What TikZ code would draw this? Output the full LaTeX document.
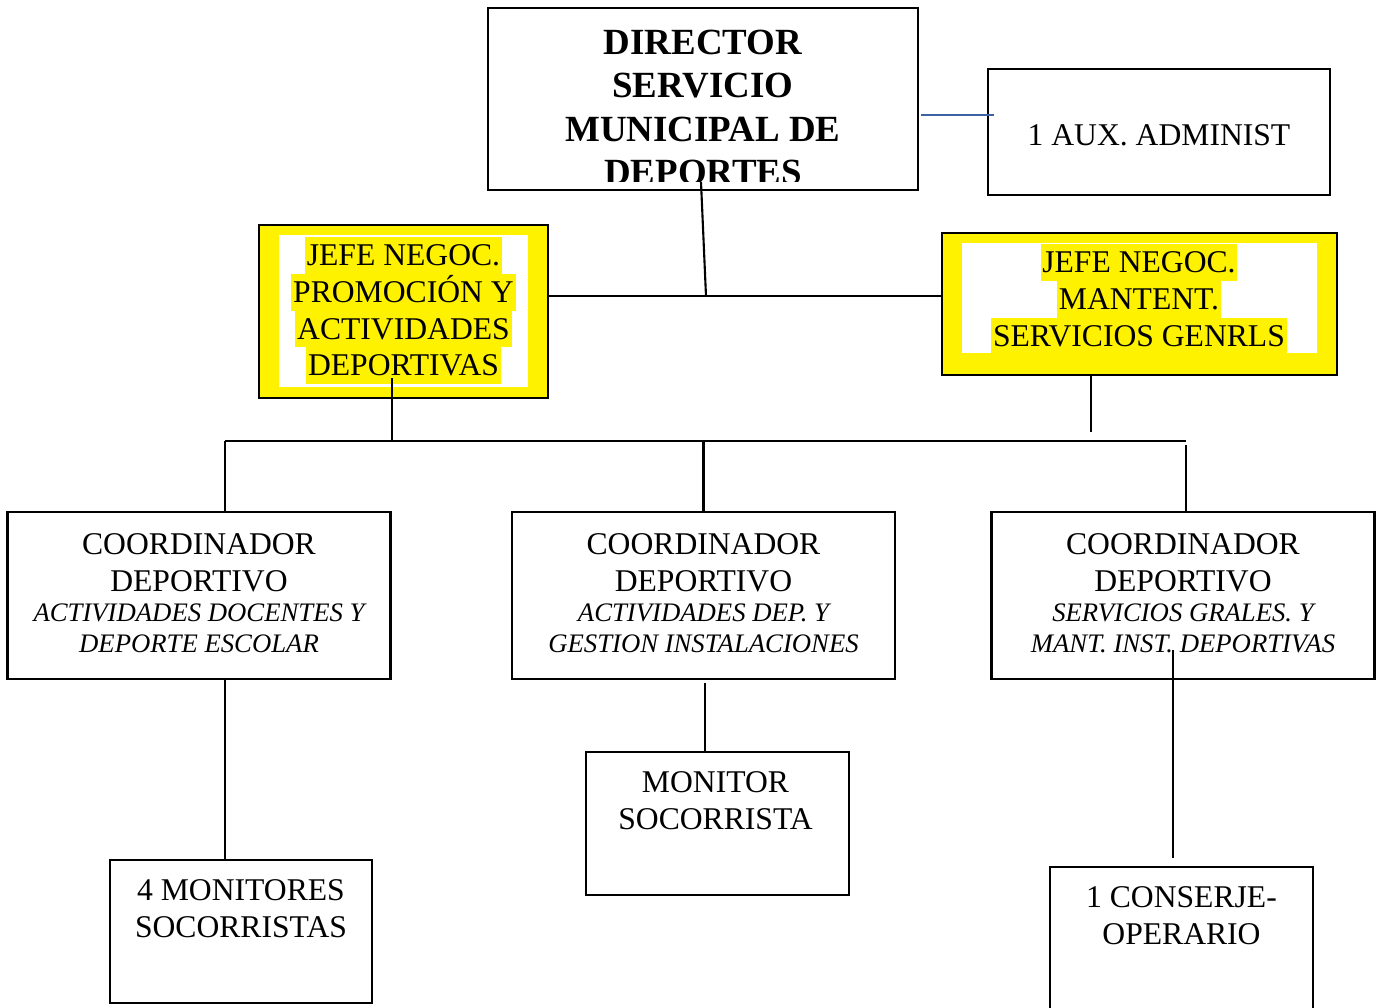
\documentclass[tikz,border=0pt]{standalone}
\usepackage{fontspec}
\setmainfont{Liberation Serif}
\definecolor{linkblue}{RGB}{60,100,165}
\tikzset{
  box/.style={draw, inner sep=0pt},
  head/.style={font=\fontsize{10.5}{12.3}\selectfont\bfseries, align=center, inner sep=0pt},
  txt/.style={font=\fontsize{9}{10.4}\selectfont, align=center, inner sep=0pt},
  sub/.style={font=\fontsize{7.6}{8.8}\selectfont\itshape, align=center, inner sep=0pt},
  hilite/.style={fill=yellow, font=\fontsize{9}{10.4}\selectfont, inner xsep=0.5pt, inner ysep=0pt, text height=8.2pt, text depth=2.3pt}
}
\begin{document}
\begin{tikzpicture}[line width=0.6pt]
  \useasboundingbox (0,0) rectangle (13.76,-10.08);
  % director and assistant
  \node[box, minimum width=4.3cm, minimum height=1.82cm] (dir) at (7.03,-0.99) {};
  \begin{scope}
    \clip (4.88,-0.08) rectangle (9.18,-1.815);
    \node[head] (dirtxt) at (7.03,-1.075) {DIRECTOR\\SERVICIO\\MUNICIPAL DE\\DEPORTES};
  \end{scope}
  \node[box, minimum width=3.42cm, minimum height=1.26cm] (aux) at (11.59,-1.32) {};
  \node[txt] (auxtxt) at ([yshift=-0.03cm]aux.center) {1 AUX. ADMINIST};
  % the two heads of section
  \node[box, fill=yellow, minimum width=2.89cm, minimum height=1.73cm] (jA) at (4.035,-3.115) {};
  \node[fill=white, inner sep=0pt, minimum width=2.49cm, minimum height=1.52cm] (jAin) at (4.035,-3.11) {};
  \foreach \t [count=\i] in {JEFE NEGOC.,PROMOCIÓN Y,ACTIVIDADES,DEPORTIVAS}
    \node[hilite] (jA\i) at (4.035,{-2.555-0.367*(\i-1)}) {\t};
  \node[box, fill=yellow, minimum width=3.95cm, minimum height=1.42cm] (jB) at (11.395,-3.04) {};
  \node[fill=white, inner sep=0pt, minimum width=3.55cm, minimum height=1.10cm] (jBin) at (11.395,-2.98) {};
  \foreach \t [count=\i] in {JEFE NEGOC.,MANTENT.,SERVICIOS GENRLS}
    \node[hilite] (jB\i) at (11.39,{-2.625-0.37*(\i-1)}) {\t};
  % coordinators
  \foreach \n/\x/\la/\lb in {coA/1.99/ACTIVIDADES DOCENTES Y/DEPORTE ESCOLAR,
      coB/7.035/ACTIVIDADES DEP. Y/GESTION INSTALACIONES,
      coC/11.83/SERVICIOS GRALES. Y/MANT. INST. DEPORTIVAS} {
    \node[box, minimum width=3.83cm, minimum height=1.67cm] (\n) at (\x,-5.955) {};
    \node[txt] (\n-t) at (\x,-5.625) {COORDINADOR\\DEPORTIVO};
    \node[sub] (\n-s) at (\x,-6.285) {\la\\\lb};
  }
  % staff
  \node[box, minimum width=2.62cm, minimum height=1.43cm] (monA) at (2.41,-9.315) {};
  \node[txt, anchor=north] (monAt) at ([yshift=-0.2cm]monA.north) {4 MONITORES\\SOCORRISTAS};
  \node[box, minimum width=2.63cm, minimum height=1.43cm] (monB) at (7.175,-8.235) {};
  \node[txt, anchor=north] (monBt) at ([shift={(-0.02,-0.2)}]monB.north) {MONITOR\\SOCORRISTA};
  \node[box, minimum width=2.63cm, minimum height=1.63cm] (cons) at (11.815,-9.485) {};
  \node[txt, anchor=north] (const) at ([yshift=-0.2cm]cons.north) {1 CONSERJE-\\OPERARIO};
  % connectors
  \coordinate (dirfoot) at (7.01,-1.82);
  \coordinate (hub) at (7.06,-2.96);
  \draw (dirfoot) -- (hub);
  \draw (jA.east |- hub) -- (jB.west |- hub);
  \draw[linkblue] ([shift={(0.02,-0.16)}]dir.east) -- ([shift={(0.07,0.17)}]aux.west);
  \coordinate (busL) at (2.25,-4.41);
  \coordinate (busR) at (11.86,-4.41);
  \coordinate (jAfoot) at (3.92,-3.78);
  \coordinate (jBfoot) at (10.91,-4.32);
  \coordinate (busRtop) at (11.86,-4.45);
  \draw (busL) -- (busR);
  \draw (jAfoot) -- (jAfoot |- busL);
  \draw (jBfoot |- jB.south) -- (jBfoot);
  \draw (busL) -- (busL |- coA.north);
  \draw (coB.north |- busL) -- (coB.north);
  \draw (busRtop) -- (busRtop |- coC.north);
  \draw (busL |- coA.south) -- (busL |- monA.north);
  \coordinate (coBfoot) at (7.05,-6.83);
  \draw (coBfoot) -- (coBfoot |- monB.north);
  \coordinate (coCfoot) at (11.73,-6.50);
  \coordinate (constop) at (11.73,-8.58);
  \draw (coCfoot) -- (constop);
\end{tikzpicture}
\end{document}
